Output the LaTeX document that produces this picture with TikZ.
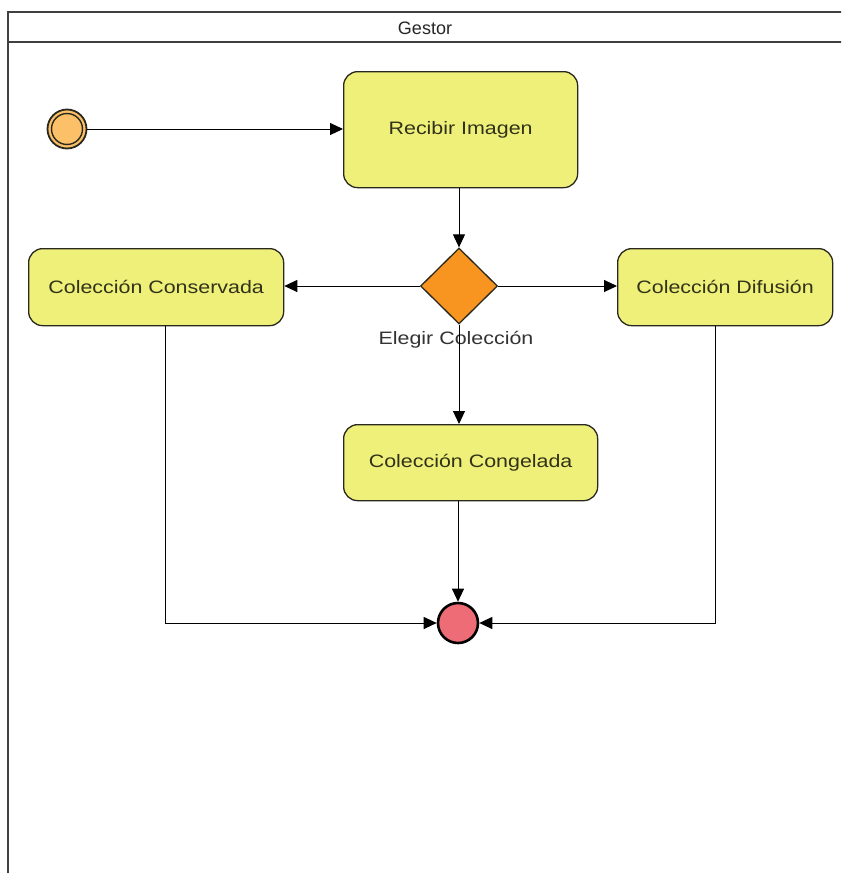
\documentclass[tikz,border=0pt]{standalone}
\usepackage{fontspec}
\setmainfont{Liberation Sans}
\newfontfamily\widefont{Liberation Sans}[FakeStretch=1.19]
\usetikzlibrary{arrows.meta,shapes.geometric}
\definecolor{actfill}{RGB}{238,240,122}
\definecolor{decfill}{RGB}{248,148,32}
\definecolor{startfill}{RGB}{251,192,104}
\definecolor{endfill}{RGB}{238,108,118}
\definecolor{edge}{RGB}{40,40,30}
\definecolor{acttext}{RGB}{50,50,25}
\tikzset{
  activity/.style={draw=edge, line width=1.3pt, fill=actfill, rounded corners=14pt,
    anchor=north west, inner sep=0pt},
  acttxt/.style={font=\widefont\fontsize{18}{20}\selectfont, text=acttext},
  flow/.style={draw=black, line width=1pt, -{Triangle[length=13pt,width=12pt]}},
}
\begin{document}
\begin{tikzpicture}[x=1pt,y=-1pt]
\useasboundingbox (0,0) rectangle (841,873);
\fill[white] (0,0) rectangle (841,873);
% swimlane frame and header
\begin{scope}
\clip (0,0) rectangle (841,873);
\draw[draw=black!75, line width=1.6pt] (8,12) rectangle (860,890);
\draw[draw=black!75, line width=1.6pt] (8,42) -- (860,42);
\end{scope}
\node[font=\fontsize{18}{20}\selectfont, text=black!85] (lane) at (425,28) {Gestor};
% nodes
\node[draw=edge, line width=1.8pt, circle, fill=startfill, minimum size=39pt, inner sep=0pt] (start) at (67,129) {};
\draw[edge, line width=1.4pt] (start.center) circle (15.5pt);
\node[activity, minimum width=234pt, minimum height=116pt] (recibir) at (343,71) {};
\node[acttxt] (recibirtxt) at (recibir.center) {Recibir Imagen};
\node[draw=edge, line width=1.3pt, fill=decfill, diamond, minimum width=77pt, minimum height=76pt, inner sep=0pt] (dec) at (459,286) {};
\node[font=\widefont\fontsize{18}{20}\selectfont, text=black!80] (declabel) at (456,340) {Elegir Colección};
\node[activity, minimum width=255pt, minimum height=77pt] (cons) at (28,248) {};
\node[acttxt] (constxt) at (cons.center) {Colección Conservada};
\node[activity, minimum width=215pt, minimum height=77pt] (dif) at (617,248) {};
\node[acttxt] (diftxt) at (dif.center) {Colección Difusión};
\node[activity, minimum width=254pt, minimum height=76pt] (cong) at (343,424) {};
\node[acttxt] (congtxt) at (cong.center) {Colección Congelada};
\node[draw=black, line width=2.6pt, circle, fill=endfill, minimum size=40pt, inner sep=0pt] (end) at (458,623) {};
% flows
\draw[flow] (start) -- (recibir.west |- start);
\draw[flow] (recibir.south -| dec) -- (dec.north);
\draw[flow] (dec.west) -- (cons.east |- dec.west);
\draw[flow] (dec.east) -- (dif.west |- dec.east);
\draw[flow] (dec.south) -- (cong.north -| dec.south);
\draw[flow] (cong.south -| end) -- (end.north);
\draw[flow] (cons.south -| 165,0) -- (165,623) -- (end.west);
\draw[flow] (dif.south -| 715,0) -- (715,623) -- (end.east);
\end{tikzpicture}
\end{document}
